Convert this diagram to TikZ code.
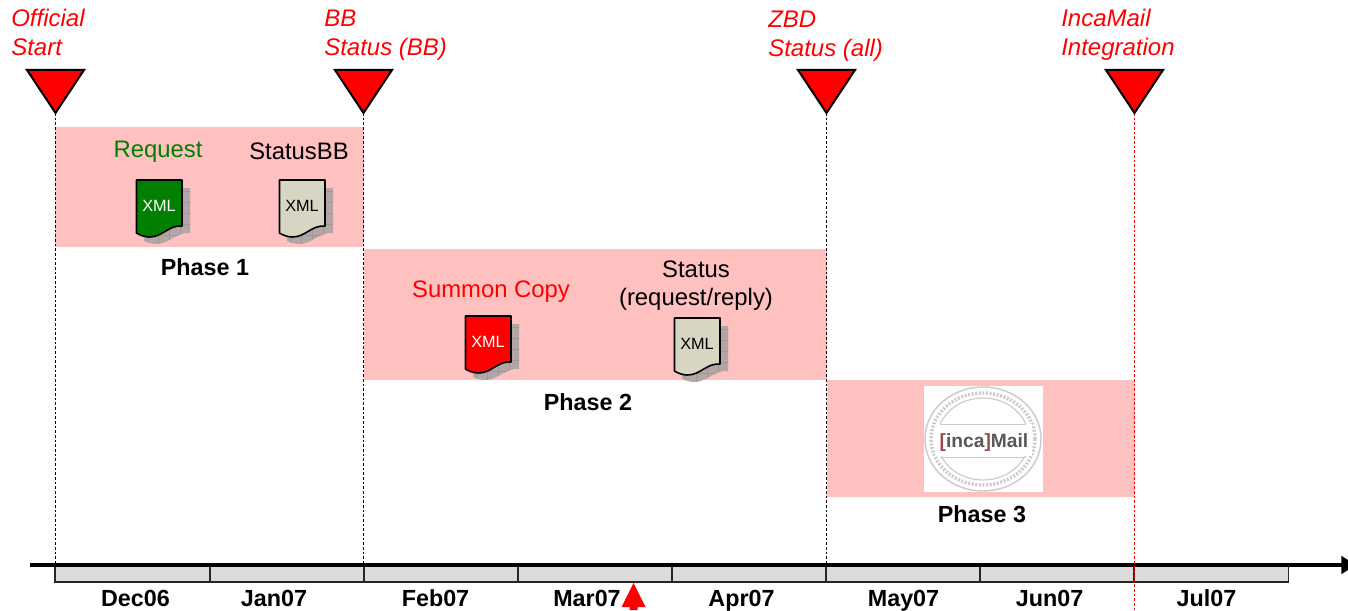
\documentclass[tikz,border=0pt]{standalone}
\usepackage{fontspec}
\setmainfont{Liberation Sans}
\usetikzlibrary{arrows.meta}
\definecolor{pinkband}{HTML}{FFC0C0}
\definecolor{docgrey}{HTML}{D6D6C2}
\definecolor{docgreen}{HTML}{007F00}
\definecolor{monthgrey}{HTML}{DCDCDC}
\definecolor{shadowgrey}{HTML}{B4A6A6}
\newcommand{\fsz}[1]{\fontsize{#1}{#1}\selectfont}
\tikzset{
  x=0.75pt,y=-0.75pt,
  band/.style={fill=pinkband,draw=none},
  marker/.style={fill=red,draw=black,line width=1.5pt,line join=miter},
  guide/.style={line width=0.6pt,dash pattern=on 2pt off 1.5pt},
  milestone/.style={font=\fsz{18}\itshape,text=red,align=left,anchor=north west,inner sep=0pt},
  phase/.style={font=\fsz{17.5}\bfseries,inner sep=0pt},
  month/.style={font=\fsz{17.5}\bfseries,inner sep=0pt,anchor=base},
  cell/.style={fill=monthgrey,draw=black!85,line width=1.2pt},
  doclabel/.style={font=\fsz{17.9},inner sep=0pt,align=center},
  xmltext/.style={font=\fsz{12.2},inner sep=0pt},
  pics/xmldoc/.style n args={2}{code={
    \begin{scope}
      \clip (7.5,8) -- (53.5,8) -- (53.5,53) .. controls (40,52) and (32,64) .. (20,64) .. controls (15,64) and (10,62) .. (7.5,61) -- cycle;
      \fill[shadowgrey] (0,0) rectangle (60,70);
      \foreach \g in {0,11,...,66} {\draw[black!40,line width=0.3pt] (\g,0) -- (\g,70);\draw[black!40,line width=0.3pt] (0,\g) -- (60,\g);}
    \end{scope}
    \draw[fill=#1,draw=black,line width=1.2pt,line join=round] (0,0) -- (45.5,0) -- (45.5,46) .. controls (32,45) and (26,57) .. (13,57) .. controls (8,57) and (3,55) .. (0,53) -- cycle;
    \node[xmltext,text=#2] at (22.5,25.5) {XML};
  }}
}
\begin{document}
\begin{tikzpicture}
\useasboundingbox (0,0) rectangle (1348,610);
% bands
\fill[band] (55,127) rectangle (363.5,247);
\fill[band] (363.5,249) rectangle (826.5,380);
\fill[band] (826.5,380) rectangle (1134.5,497);
% marker tips and guide feet
\coordinate (tipA) at (55,113);
\coordinate (tipB) at (363.5,113);
\coordinate (tipC) at (826.5,113);
\coordinate (tipD) at (1134.5,113);
\coordinate (footA) at (55,566);
\coordinate (footB) at (363.5,566);
\coordinate (footC) at (826.5,566);
\coordinate (footD) at (1134.5,610);
% timeline cells
\draw[cell] (55,566) rectangle (1288.5,582);
\foreach \tx in {210,364,518,672,826,980,1134} \draw[black!85,line width=1.2pt] (\tx,566) -- (\tx,582);
% axis
\coordinate (axisL) at (30,565);
\coordinate (axisR) at (1356,565);
\begin{scope}
\clip (0,0) rectangle (1348,610);
\draw[line width=3.4pt,-{Triangle[length=11pt,width=13pt]}] (axisL) -- (axisR);
\end{scope}
% guides
\draw[guide,black] (tipA) -- (footA);
\draw[guide,black] (tipB) -- (footB);
\draw[guide,black] (tipC) -- (footC);
\draw[guide,red] (tipD) -- (footD);
% markers
\foreach \mx in {55.5,363.5,826.5,1134.5}
  \draw[marker] (\mx-28.5,70) -- (\mx+28.5,70) -- (\mx,113) -- cycle;
% milestones
\node[milestone] (msA) at (11,9) {Official\\[3.8pt]Start};
\node[milestone] (msB) at (324,10) {BB\\[3.8pt]Status (BB)};
\node[milestone] (msC) at (768,10.5) {ZBD\\[3.8pt]Status (all)};
\node[milestone] (msD) at (1061,9) {IncaMail\\[3.8pt]Integration};
% labels
\node[doclabel,text=docgreen] (req) at (158,152) {Request};
\node[doclabel] (stbb) at (299,151) {StatusBB};
\node[doclabel,text=red] (summon) at (491,292) {Summon Copy};
\node[doclabel] (st) at (696,285.5) {Status\\[3.5pt](request/reply)};
% docs
\pic at (136.5,180) {xmldoc={docgreen}{white}};
\pic at (279.5,180) {xmldoc={docgrey}{black}};
\pic at (465.5,316) {xmldoc={red}{white}};
\pic at (674.5,318) {xmldoc={docgrey}{black}};
% phases
\node[phase] (ph1) at (205,267) {Phase 1};
\node[phase] (ph2) at (588,402) {Phase 2};
\node[phase] (ph3) at (982,514) {Phase 3};
% seal
\fill[white] (924,386) rectangle (1043,492);
\draw[black!20,line width=1.1pt] (983,439) ellipse (58 and 52);
\draw[black!20,line width=2.6pt,dash pattern=on 1.5pt off 1.2pt] (983,439) ellipse (52 and 46);
\draw[black!20,line width=0.9pt] (983,439) ellipse (46 and 41);
\fill[white] (935,424) rectangle (1032,456);
\draw[black!20,line width=0.7pt] (940,424) -- (1026,424) (940,457) -- (1026,457);
\node[inner sep=0pt,font=\fsz{14.4}\bfseries,text=black!65] (inca) at (984,442.5) {\textcolor{red!45!black!70}{[}inca\textcolor{red!45!black!70}{]}Mail};
% months
\foreach \mname/\mx/\mt in {a/135.5/Dec06,b/274/Jan07,c/435.5/Feb07,d/587/Mar07,e/741.5/Apr07,f/903.5/May07,g/1049.5/Jun07,h/1206.5/Jul07}
  \node[month] (m\mname) at (\mx,606.5) {\mt};
% today arrow
\fill[red] (633.5,583) -- (645.5,607) -- (637.5,607) -- (637.5,610) -- (629.5,610) -- (629.5,607) -- (621.5,607) -- cycle;
\end{tikzpicture}
\end{document}
